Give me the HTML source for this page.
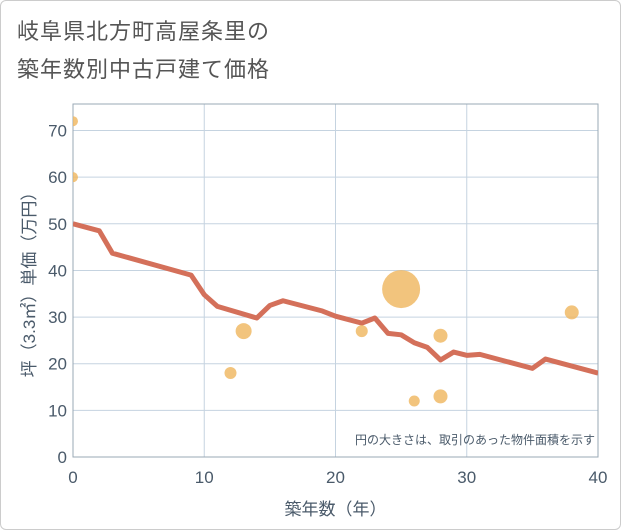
<!DOCTYPE html>
<html><head><meta charset="utf-8"><style>
body{margin:0;background:#fff;font-family:"Liberation Sans","Noto Sans CJK JP",sans-serif}
#wrap{position:relative;width:619px;height:528px;border:1px solid #ccc;border-radius:6px;overflow:hidden}
.t{position:absolute;left:16px;font-size:22px;color:#555;letter-spacing:1px}
</style></head><body>
<div id="wrap">
<div class="t" style="top:13px">岐阜県北方町高屋条里の</div>
<div class="t" style="top:51px">築年数別中古戸建て価格</div>
<svg id="c" width="621" height="530" style="position:absolute;left:0;top:0"><defs><clipPath id="pc"><rect x="72" y="103" width="525" height="353"/></clipPath></defs></svg>
</div>
<script>
const lineX=[0,2,3,9,10,11,14,15,16,19,20,22,23,24,25,26,27,28,29,30,31,35,36,40];
const lineY=[50,48.5,43.7,39,34.8,32.3,29.8,32.5,33.5,31.3,30.2,28.7,29.8,26.5,26.2,24.5,23.5,20.8,22.5,21.8,22,19,21,18];
const bubX=[0,0,12,13,22,25,26,28,28,38];
const bubY=[72,60,18,27,27,36,12,26,13,31];
const bubR=[5,5,6,8,6,19,5.5,7,7,7];
const xTicks=[0,10,20,30,40];
const yTicks=[0,10,20,30,40,50,60,70];
const L=72,R=597,T=103,B=456;
const sx=v=>L+v*(R-L)/40, sy=v=>B-v*4.664;
const svg=document.getElementById('c');const NS='http://www.w3.org/2000/svg';
function mk(t,a,p){const e=document.createElementNS(NS,t);for(const k in a)e.setAttribute(k,a[k]);(p||svg).appendChild(e);return e;}
yTicks.forEach(v=>{const g=mk('line',{x1:L,x2:R,y1:sy(v),y2:sy(v),stroke:'#c5d3e0','stroke-width':1});

const t=mk('text',{x:L-6,y:sy(v)+6,'text-anchor':'end','font-size':17,fill:'#4a5a6a'});t.textContent=v;
});
xTicks.forEach(v=>{const g=mk('line',{x1:sx(v),x2:sx(v),y1:T,y2:B,stroke:'#c5d3e0','stroke-width':1});

const t=mk('text',{x:sx(v),y:B+26,'text-anchor':'middle','font-size':17,fill:'#4a5a6a'});t.textContent=v;
});
const fr=mk('rect',{x:L,y:T,width:R-L,height:B-T,fill:'none',stroke:'#9aa8b5','stroke-width':1});

const gp=mk('g',{'clip-path':'url(#pc)'});

const pl=mk('polyline',{points:lineX.map((x,i)=>sx(x)+','+sy(lineY[i])).join(' '),fill:'none',stroke:'#d4705a','stroke-width':5,'stroke-linejoin':'round'},gp);

bubX.forEach((x,i)=>{const c=mk('circle',{cx:sx(x),cy:sy(bubY[i]),r:bubR[i],fill:'#efb55c','fill-opacity':0.8},gp);
});
const n=mk('text',{x:R-3,y:443,'text-anchor':'end','font-size':12,fill:'#4a5a6a'});n.textContent='円の大きさは、取引のあった物件面積を示す';

const xt=mk('text',{x:(L+R)/2,y:514,'text-anchor':'middle','font-size':17,fill:'#4a5a6a'});xt.textContent='築年数（年）';

const yt=mk('text',{x:0,y:0,'text-anchor':'middle','font-size':17,fill:'#4a5a6a',transform:'translate(34,'+((T+B)/2)+') rotate(-90)'});yt.textContent='坪（3.3㎡）単価（万円）';

</script>
</body></html>
